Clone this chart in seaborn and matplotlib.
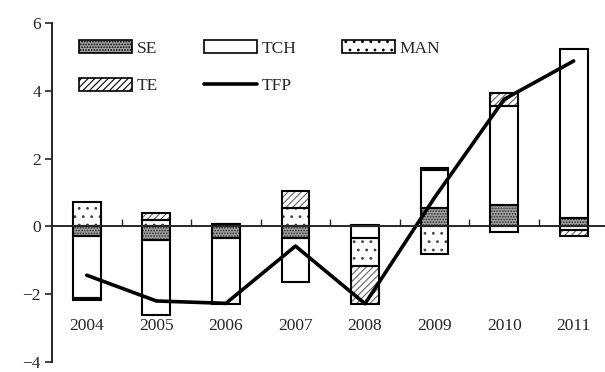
import numpy as np
import pandas as pd
import matplotlib
matplotlib.use('Agg')
import matplotlib.pyplot as plt
import seaborn as sns
from matplotlib.patches import Patch
from matplotlib.lines import Line2D

# values
years = ['2004', '2005', '2006', '2007', '2008', '2009', '2010', '2011']
se = [-0.29, -0.41, -0.33, -0.34, 0.05, 0.54, 0.62, 0.26]
tch = [-1.81, -2.20, -1.97, -1.31, -0.33, 1.12, 2.94, 4.97]
man = [0.73, 0.18, 0.07, 0.53, -0.84, -0.80, -0.17, -0.10]
te = [-0.07, 0.21, 0.00, 0.51, -1.13, 0.06, 0.37, -0.17]
tfp = [-1.44, -2.20, -2.27, -0.58, -2.28, 0.85, 3.75, 4.88]
y_ticks = [-4, -2, 0, 2, 4, 6]

sns.set_style('white')
plt.rcParams['font.family'] = ['Liberation Serif', 'DejaVu Serif']
plt.rcParams['hatch.linewidth'] = 0.8

# stacking order of the components, with their fill styles
series = [
    ('SE', se, dict(facecolor='#a0a0a0', hatchcol='#2a2a2a', hatch='......')),
    ('TCH', tch, dict(facecolor='white', hatchcol='black', hatch=None)),
    ('MAN', man, dict(facecolor='white', hatchcol='#444444', hatch='..')),
    ('TE', te, dict(facecolor='white', hatchcol='#666666', hatch='/////')),
]

fig = plt.figure(figsize=(6.05, 3.72), dpi=100)
ax = fig.add_axes([52 / 605, 10 / 372, 553 / 605, 339 / 372])

x = np.arange(len(years))
width = 0.40
pos_base = np.zeros(len(years))
neg_base = np.zeros(len(years))

for name, vals, st in series:
    vals = np.array(vals)
    bottom = np.where(vals >= 0, pos_base, neg_base)
    # fill + pattern
    ax.bar(x, vals, width, bottom=bottom, color=st['facecolor'],
           edgecolor=st['hatchcol'], hatch=st['hatch'], linewidth=0, zorder=2)
    # black outline
    ax.bar(x, vals, width, bottom=bottom, fill=False,
           edgecolor='black', linewidth=1.5, zorder=3)
    pos_base = pos_base + np.where(vals >= 0, vals, 0)
    neg_base = neg_base + np.where(vals < 0, vals, 0)

sns.lineplot(x=x, y=tfp, color='black', linewidth=2.6, ax=ax, zorder=4)

ax.set_xlim(-0.5, 7.45)
ax.set_ylim(-4, 6)

# axes look
for side in ['top', 'right']:
    ax.spines[side].set_visible(False)
ax.spines['bottom'].set_position(('data', 0))
ax.spines['bottom'].set_linewidth(1.4)
ax.spines['left'].set_linewidth(1.4)
ax.spines['bottom'].set_zorder(5)

ax.set_xticks(np.arange(0.5, len(years) - 0.5, 1))
ax.set_xticklabels([])
ax.tick_params(axis='x', direction='in', length=5, width=1.0, bottom=True)
ax.set_yticks(y_ticks)
ax.set_yticklabels([str(v).replace('-', '\u2212') for v in y_ticks], fontsize=12.5)
ax.tick_params(axis='y', direction='out', length=5, width=1.2, left=True, pad=3)

# year labels sit low in the plot, below the bars
for i, yr in enumerate(years):
    ax.text(i, -2.95, yr, ha='center', va='center', fontsize=12.5)

handles = [
    Patch(facecolor='#a0a0a0', edgecolor='black', hatch='......', linewidth=1.2),
    Patch(facecolor='white', edgecolor='black', hatch='/////', linewidth=1.2),
    Patch(facecolor='white', edgecolor='black', linewidth=1.2),
    Line2D([0], [0], color='black', linewidth=2.6),
    Patch(facecolor='white', edgecolor='black', hatch='..', linewidth=1.2),
]
labels = ['SE', 'TE', 'TCH', 'TFP', 'MAN']
ax.legend(handles, labels, ncol=3, loc='upper left', frameon=False,
          bbox_to_anchor=(79 / 605, 1 - 40 / 372), bbox_transform=fig.transFigure,
          fontsize=12.5, handlelength=3.05, handleheight=0.8, handletextpad=0.3,
          columnspacing=2.6, labelspacing=1.2, borderpad=0, borderaxespad=0)

fig.savefig('out.png', dpi=100)
